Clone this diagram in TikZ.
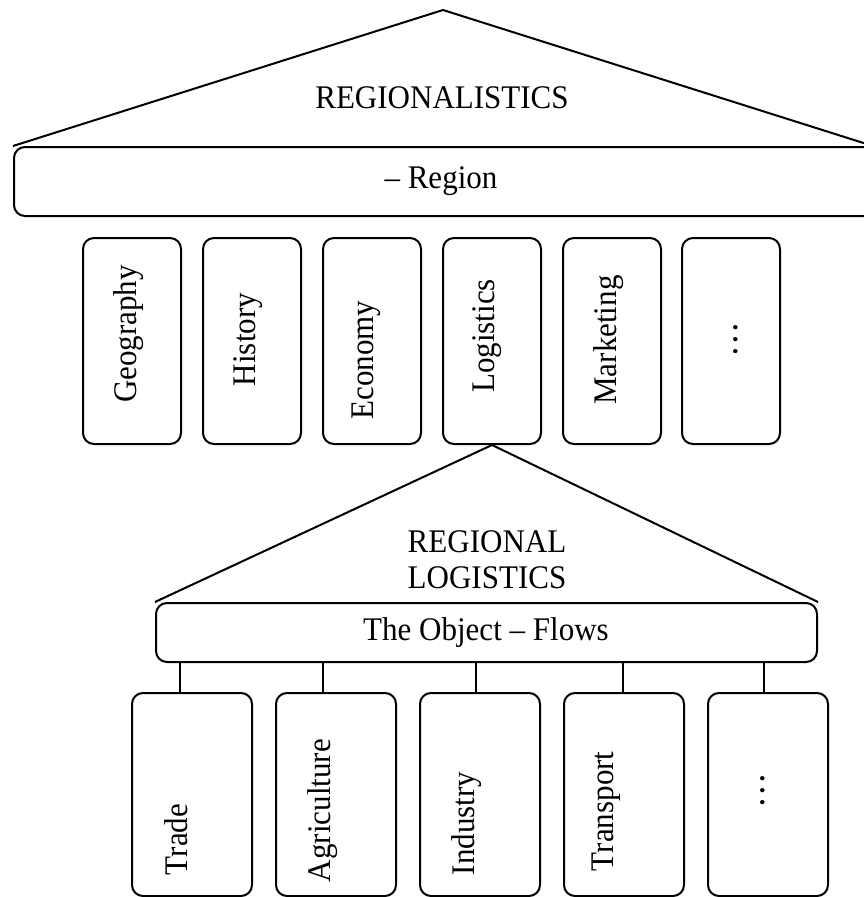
\documentclass[tikz,border=0pt]{standalone}
\usepackage{fontspec}
\setmainfont{Liberation Serif}[FakeStretch=0.94]
\usetikzlibrary{calc}
\begin{document}
\begin{tikzpicture}[x=1pt,y=-1pt, line width=2pt, line join=round,
  box/.style={draw, rounded corners=11pt, inner sep=0pt, line width=2pt},
  txt/.style={font=\fontsize{33}{36}\selectfont, inner sep=0pt},
  vtxt/.style={txt, rotate=90},
  dots/.style={font=\fontsize{38}{40}\selectfont, inner sep=0pt, rotate=90}]
\useasboundingbox (0,0) rectangle (864,897);
\clip (0,0) rectangle (864,897);

% ---- top roof ----
\node[box, minimum width=880pt, minimum height=69pt, anchor=north west] (regbar) at (13,146) {};
\coordinate (apex1) at (443,10);
\coordinate (tr1) at (873,146);
\draw (regbar.north west) -- (apex1) -- (tr1);
\node[txt] (regtitle) at (442,98) {REGIONALISTICS};
\node[txt] (regtxt) at (441,181) {– Region};

% ---- upper columns ----
\foreach \nm/\cx in {geo/132, his/252, eco/372, logi/492, mar/612, more1/731}{
  \node[box, minimum width=98pt, minimum height=206pt, anchor=north] (\nm) at (\cx,237) {};
}
\node[vtxt] (geoT) at (128.5,334) {Geography};
\node[vtxt] (hisT) at (248.5,339.5) {History};
\node[vtxt] (ecoT) at (366,360) {Economy};
\node[vtxt] (logiT) at (487.5,336) {Logistics};
\node[vtxt] (marT) at (609,340) {Marketing};
\node[dots] (more1T) at (736,340) {…};

% ---- lower roof ----
\node[box, minimum width=661pt, minimum height=59pt] (flows) at (486.5,632.5) {};
\draw (flows.north west) -- (logi.south) -- (flows.north east);
\node[txt, align=center] (rltitle) at (487,560) {REGIONAL\\LOGISTICS};
\node[txt] (flowsT) at (486,633) {The Object – Flows};

% ---- lower columns ----
\foreach \nm/\cx/\dx in {trade/192/-12, agri/336/-13, ind/480/-4, trans/624/-1, more2/768/-4}{
  \node[box, minimum width=120pt, minimum height=203pt, anchor=north] (\nm) at (\cx,692) {};
  \coordinate (c\nm) at ($(\nm.north)+(\dx,0)$);
  \draw (c\nm) -- (c\nm |- flows.south);
}
\node[vtxt, anchor=west] (tradeT) at (176,876) {Trade};
\node[vtxt, anchor=west] (agriT) at (323,883) {Agriculture};
\node[vtxt, anchor=west] (indT) at (467,876) {Industry};
\node[vtxt, anchor=west] (transT) at (606,872) {Transport};
\node[dots] (more2T) at (763,791) {…};
\end{tikzpicture}
\end{document}
